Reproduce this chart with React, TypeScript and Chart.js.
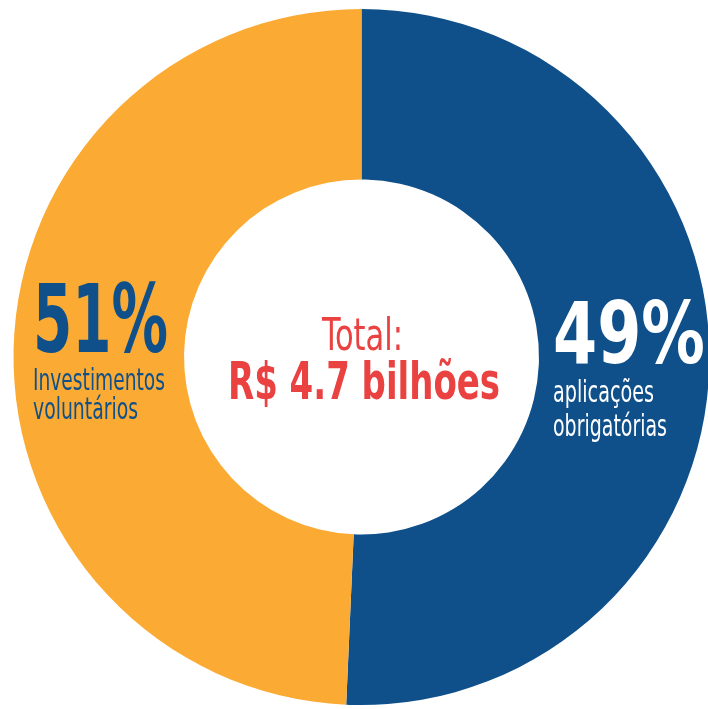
import React, { useEffect, useRef } from "react";
import { Chart, registerables } from "chart.js";

Chart.register(...registerables);

// Categories and values
const categories = ["aplicações obrigatórias", "Investimentos voluntários"];
// Slice sizes as drawn in the reference (the blue arc ends slightly past 6 o'clock)
const sliceValues = [50.7, 49.3];
const percentLabels = ["49%", "51%"];
const subLabels = [
  ["aplicações", "obrigatórias"],
  ["Investimentos", "voluntários"],
];
const centerTitle = "Total:";
const centerValue = "R$ 4.7 bilhões";
const colors = ["#0F508B", "#FBAB33"];
const textRed = "#EA4141";

const FAMILY = "'Liberation Sans Narrow', 'DejaVu Sans Condensed', 'Roboto', sans-serif";

function drawFit(
  ctx: CanvasRenderingContext2D,
  text: string,
  x: number,
  y: number,
  width: number,
  font: string,
  color: string,
  align: "left" | "center"
) {
  ctx.save();
  ctx.font = font;
  ctx.fillStyle = color;
  ctx.textBaseline = "alphabetic";
  ctx.textAlign = "left";
  const w = ctx.measureText(text).width;
  const s = width / w;
  const left = align === "center" ? x - width / 2 : x;
  ctx.translate(left, y);
  ctx.scale(s, 1);
  ctx.fillText(text, 0, 0);
  ctx.restore();
}

const labelPlugin = {
  id: "labelPlugin",
  afterDraw(chart: any) {
    const ctx = chart.ctx as CanvasRenderingContext2D;
    const arc = chart.getDatasetMeta(0).data[0];
    if (!arc) return;
    const cx = arc.x;
    const cy = arc.y;
    // Right (blue) slice labels
    drawFit(ctx, percentLabels[0], cx + 191.5, cy + 6, 152, `bold 86px ${FAMILY}`, "#FFFFFF", "left");
    drawFit(ctx, subLabels[0][0], cx + 191.5, cy + 45, 101, `30px ${FAMILY}`, "#FFFFFF", "left");
    drawFit(ctx, subLabels[0][1], cx + 191.5, cy + 79, 114, `30px ${FAMILY}`, "#FFFFFF", "left");
    // Left (orange) slice labels
    drawFit(ctx, percentLabels[1], cx - 328.5, cy - 5, 135, `bold 94px ${FAMILY}`, colors[0], "left");
    drawFit(ctx, subLabels[1][0], cx - 328.5, cy + 33, 132, `30px ${FAMILY}`, colors[0], "left");
    drawFit(ctx, subLabels[1][1], cx - 328.5, cy + 62, 105, `30px ${FAMILY}`, colors[0], "left");
    // Center
    drawFit(ctx, centerTitle, cx + 1, cy - 7, 81, `45px ${FAMILY}`, textRed, "center");
    drawFit(ctx, centerValue, cx + 2.5, cy + 42, 272, `bold 52px ${FAMILY}`, textRed, "center");
  },
};

export default function App() {
  const ref = useRef<HTMLCanvasElement>(null);
  useEffect(() => {
    if (!ref.current) return;
    const chart = new Chart(ref.current, {
      type: "doughnut",
      data: {
        labels: categories,
        datasets: [
          {
            data: sliceValues,
            backgroundColor: colors,
            borderWidth: 0,
          },
        ],
      },
      options: {
        responsive: false,
        animation: false,
        devicePixelRatio: 1,
        cutout: "51%",
        layout: { padding: 9 },
        plugins: {
          legend: { display: false },
          tooltip: { enabled: false },
        },
      },
      plugins: [labelPlugin],
    });
    return () => chart.destroy();
  }, []);
  return (
    <div
      style={{
        position: "fixed",
        left: 0,
        top: 0,
        width: 708,
        height: 709,
        overflow: "hidden",
        background: "#FFFFFF",
      }}
    >
      <canvas ref={ref} width={723} height={714} style={{ width: 723, height: 714, display: "block" }} />
    </div>
  );
}
